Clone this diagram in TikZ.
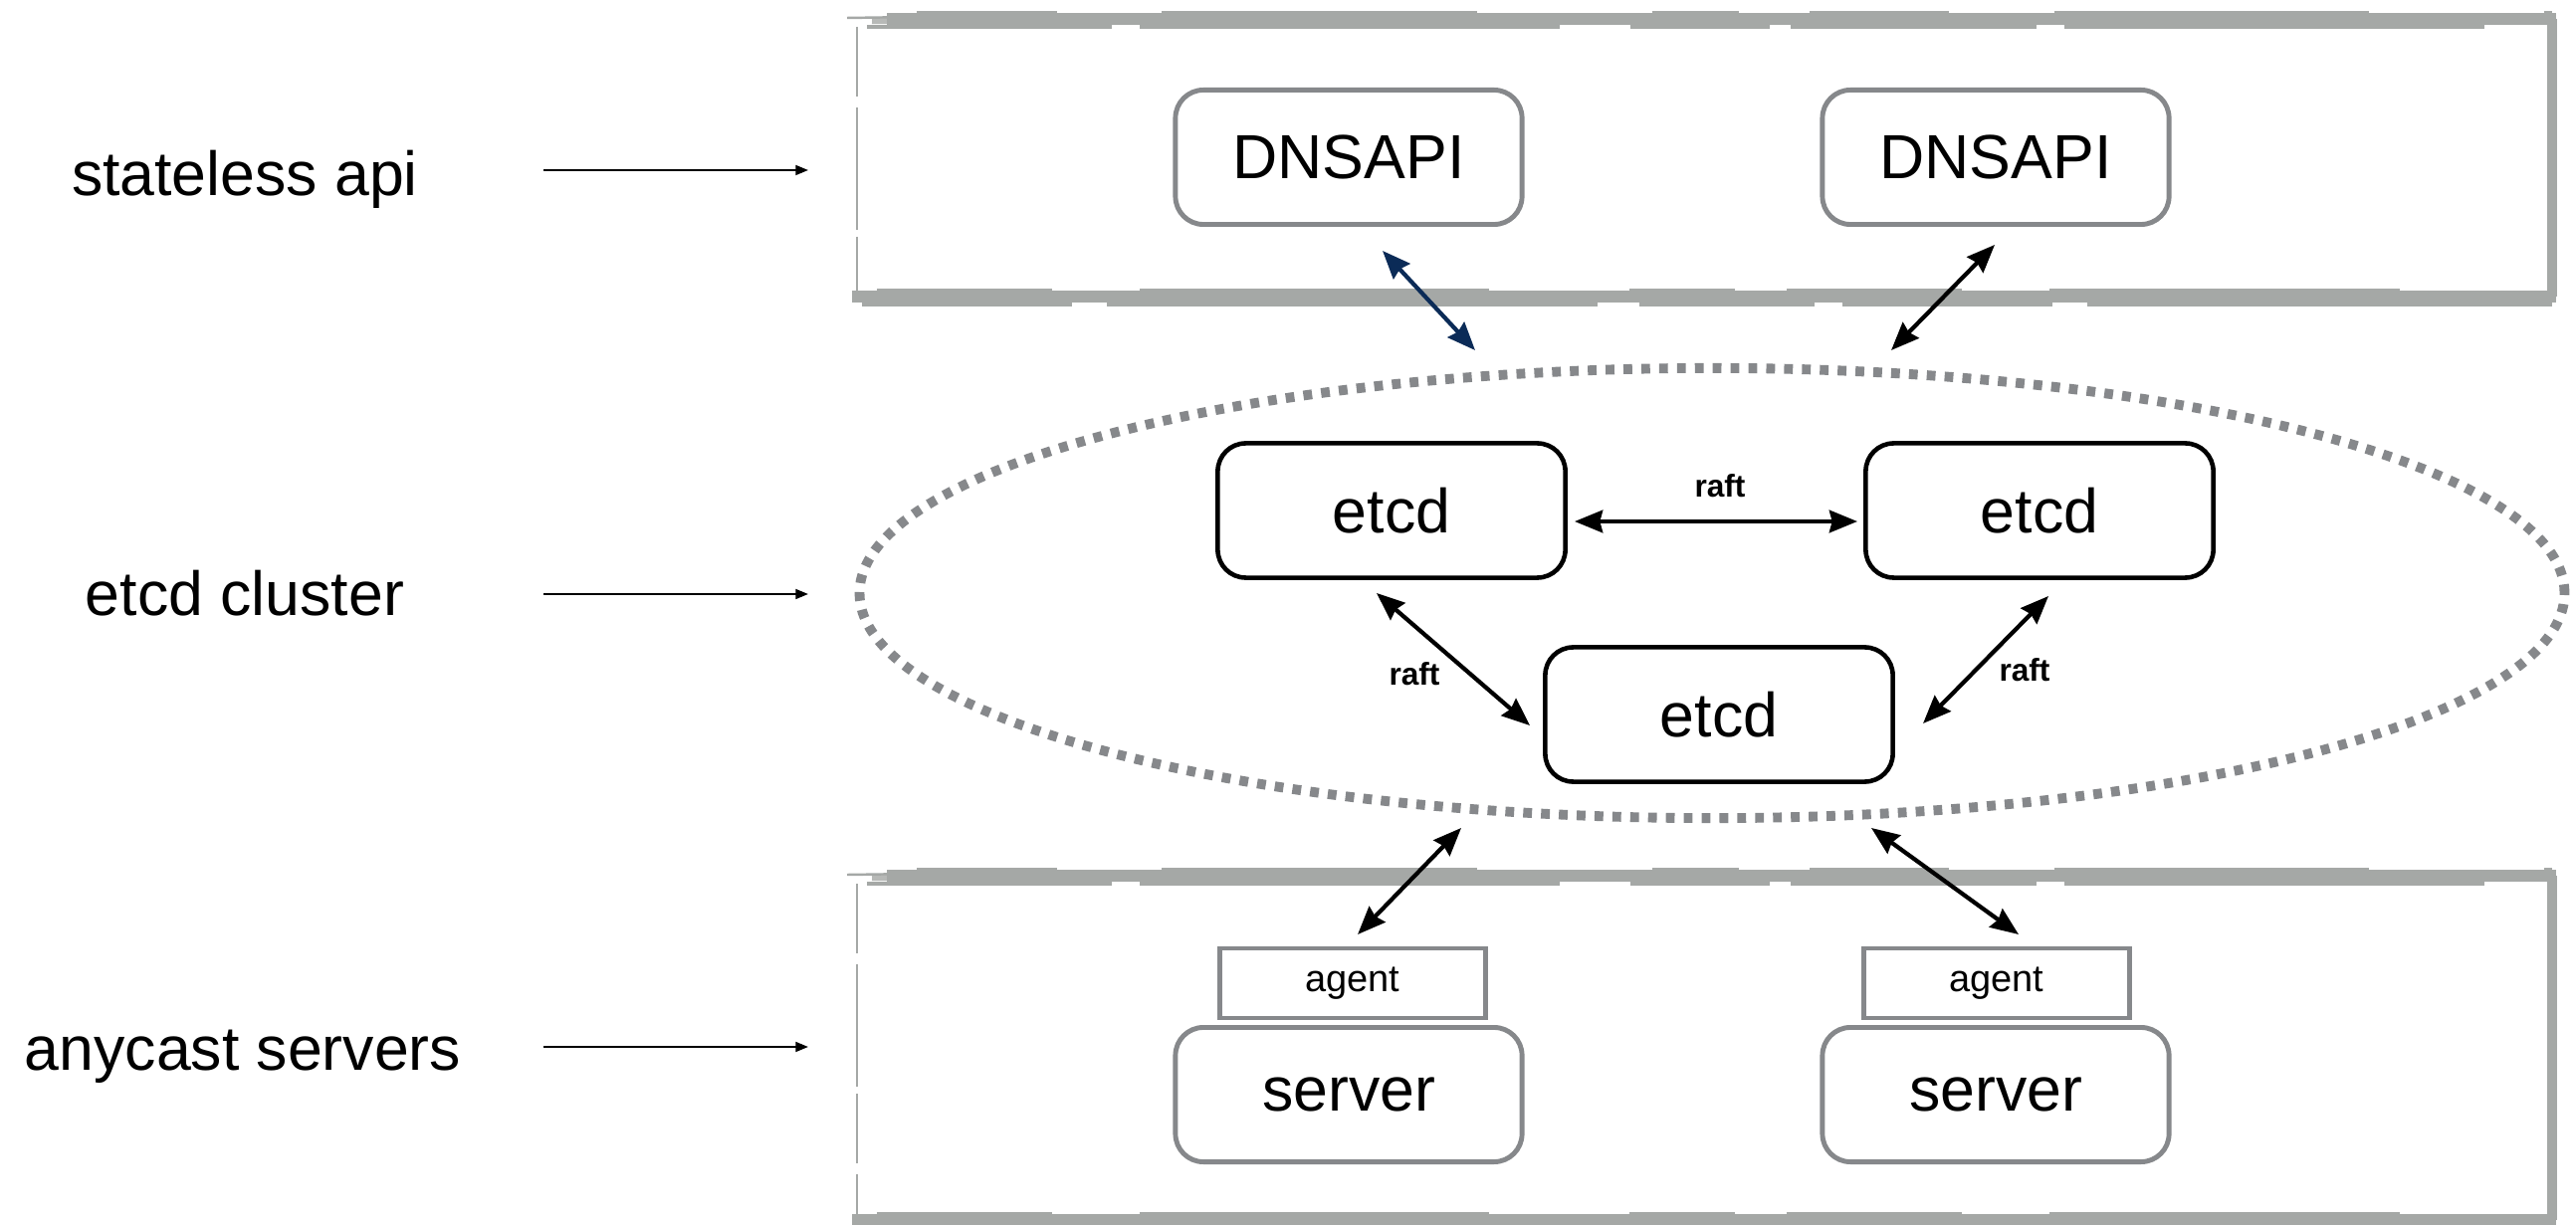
\documentclass[tikz,border=0pt]{standalone}
\usepackage{fontspec}
\setmainfont{Liberation Sans}
\usetikzlibrary{arrows.meta,shapes.geometric}
\definecolor{boxgray}{HTML}{86888B}
\definecolor{roughgray}{HTML}{A5A8A6}
\definecolor{navy}{HTML}{0B2B57}
% sketchy frame: x1 y1 x2 y2 (top band at y1, bottom band at y2)
\newcommand\roughbox[4]{%
  \draw[roughgray, line width=0.5pt, dash pattern=on 20pt off 3pt on 35pt off 2pt] (#1,#2+8) -- (#1,#4);
  \draw[roughgray, line width=2.6pt] (#3,#2) -- (#3,#4);
  \draw[roughgray, line width=3.3pt] (#1+30,#2) -- (#3+4,#2);
  \draw[roughgray, line width=1.8pt, opacity=0.8] (#1+15,#2+2) -- (#1+200,#2+3);
  \draw[roughgray, line width=0.7pt, dash pattern=on 18pt off 6pt on 30pt off 10pt on 12pt off 5pt] (#1-10,#2-1) -- (#1+60,#2-2);
  \draw[roughgray, line width=0.9pt, dash pattern=on 70pt off 8pt on 120pt off 20pt on 40pt off 6pt] (#1+10,#2+8) -- (#3-20,#2+8);
  \draw[roughgray, line width=0.7pt, dash pattern=on 40pt off 30pt on 90pt off 50pt on 25pt off 20pt] (#1+60,#2-7) -- (#3,#2-7);
  \draw[roughgray, line width=3.3pt] (#1-5,#4) -- (#3+4,#4);
  \draw[roughgray, line width=0.9pt, dash pattern=on 60pt off 10pt on 140pt off 12pt on 50pt off 8pt] (#1+5,#4+8) -- (#3,#4+8);
  \draw[roughgray, line width=0.7pt, dash pattern=on 50pt off 25pt on 100pt off 40pt on 30pt off 15pt] (#1+20,#4-7) -- (#3-15,#4-7);
}
\tikzset{
  bigtext/.style={font=\fontsize{17.8}{20}\selectfont},
  graybox/.style={draw=boxgray, line width=1.4pt, rounded corners=8pt, fill=white,
    minimum width=3.48cm, minimum height=1.35cm, inner sep=0pt, bigtext},
  etcdbox/.style={draw=black, line width=1.3pt, rounded corners=8pt, fill=white,
    minimum width=3.49cm, minimum height=1.35cm, inner sep=0pt, bigtext},
  agentbox/.style={draw=boxgray, line width=1.2pt, fill=white,
    minimum width=2.67cm, minimum height=0.70cm, inner sep=0pt, font=\fontsize{10.8}{12}\selectfont},
  lanelabel/.style={anchor=base, bigtext},
  lanearrow/.style={line width=0.6pt, -{Triangle[length=3.6pt, width=2.8pt]}},
  link/.style={line width=1.2pt, {Stealth[inset=0.8pt, length=8pt, width=6.4pt]}-{Stealth[inset=0.8pt, length=8pt, width=6.4pt]}},
  raftlabel/.style={font=\fontsize{9}{10}\selectfont\bfseries},
}
\begin{document}
\begin{tikzpicture}[x=0.01cm, y=-0.01cm]
\useasboundingbox (0,0) rectangle (2588,1231);
\fill[white] (0,0) rectangle (2588,1231);

% layer frames
\roughbox{861}{19}{2564}{298}
\roughbox{861}{880}{2564}{1226}

% left labels
\node[lanelabel] (lab1) at (246,197) {stateless api};
\node[lanelabel] (lab2) at (246,619) {etcd cluster};
\node[lanelabel] (lab3) at (244,1075) {anycast servers};
\coordinate (l1s) at (546,171); \coordinate (l1e) at (812,171);
\coordinate (l2s) at (546,597); \coordinate (l2e) at (812,597);
\coordinate (l3s) at (546,1052); \coordinate (l3e) at (812,1052);
\draw[lanearrow] (l1s) -- (l1e);
\draw[lanearrow] (l2s) -- (l2e);
\draw[lanearrow] (l3s) -- (l3e);

% etcd cluster
\node[ellipse, draw=boxgray, line width=2.8pt, dash pattern=on 2.5pt off 2.6pt,
  minimum width=17.12cm, minimum height=4.52cm, inner sep=0pt] (cluster) at (1720,596) {};

% api
\node[graybox] (api1) at (1355,158) {DNSAPI};
\node[graybox] (api2) at (2005,158) {DNSAPI};

% etcd nodes
\node[etcdbox] (etcd1) at (1398,513) {etcd};
\node[etcdbox] (etcd2) at (2049,513) {etcd};
\node[etcdbox] (etcd3) at (1727,718) {etcd};

% servers
\node[agentbox] (agent1) at (1359,988) {agent};
\node[agentbox] (agent2) at (2006,988) {agent};
\node[graybox] (server1) at (1355,1100) {server};
\node[graybox] (server2) at (2005,1100) {server};

% connector end points
\coordinate (c1a) at (1389,252); \coordinate (c1b) at (1482,352);
\coordinate (c2a) at (2004,246); \coordinate (c2b) at (1900,352);
\coordinate (h1) at (1582,524); \coordinate (h2) at (1866,524);
\coordinate (d1a) at (1383,596); \coordinate (d1b) at (1537,729);
\coordinate (d2a) at (2058,599); \coordinate (d2b) at (1932,727);
\coordinate (b1a) at (1468,832); \coordinate (b1b) at (1364,939);
\coordinate (b2a) at (1880,832); \coordinate (b2b) at (2028,939);

\draw[link, navy] (c1a) -- (c1b);
\draw[link] (c2a) -- (c2b);
\draw[link] (h1) -- (h2);
\draw[link] (d1a) -- (d1b);
\draw[link] (d2a) -- (d2b);
\draw[link] (b1a) -- (b1b);
\draw[link] (b2a) -- (b2b);

\node[raftlabel] (r1) at (1728,488) {raft};
\node[raftlabel] (r2) at (1421,677) {raft};
\node[raftlabel] (r3) at (2034,673) {raft};
\end{tikzpicture}
\end{document}
